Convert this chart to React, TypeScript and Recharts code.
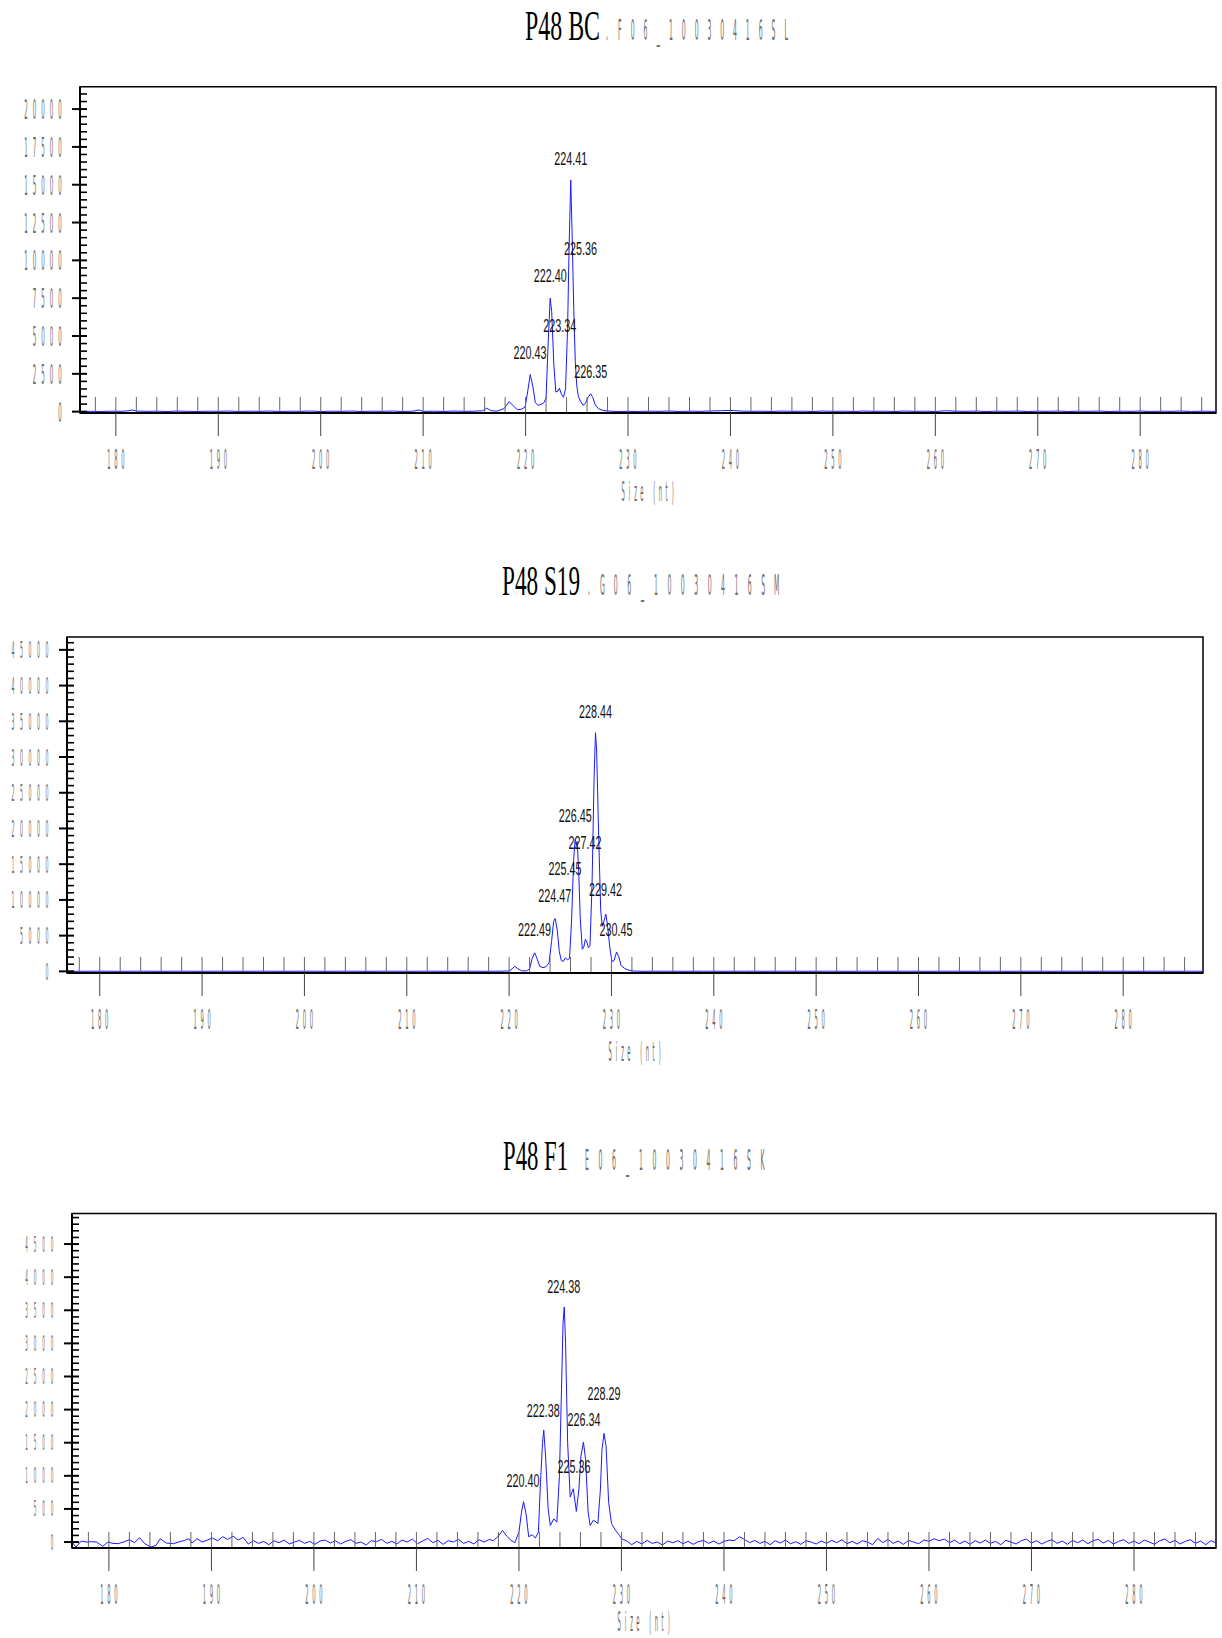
import React from "react";
import { ComposedChart, Line, Scatter, XAxis, YAxis, ReferenceArea } from "recharts";

// ---------- data ----------
// [size (nt), RFU]
const bcTrace: [number, number][] = [
  [176.5, 0], [177.5, 20], [178.5, 10], [179.5, 30], [180.5, 20], [181.3, 60], [181.6, 110], [182, 40],
  [183, 20], [184, 30], [185, 10], [186, 40], [187, 20], [188, 10], [189, 30], [190, 20], [191, 40],
  [192, 10], [193, 30], [194, 20], [195, 40], [196, 10], [197, 30], [198, 20], [199, 40], [200, 10],
  [201, 30], [202, 20], [203, 40], [204, 10], [205, 30], [206, 20], [207, 40], [208, 10], [209, 30],
  [209.6, 110], [210, 20], [211, 30], [212, 10], [213, 40], [214, 20], [215, 30], [215.8, 60], [216.2, 230],
  [216.6, 70], [217.2, 30], [217.9, 200], [218.4, 660], [218.8, 380], [219.2, 130], [219.6, 160],
  [219.95, 300], [220.2, 1300], [220.45, 2450], [220.7, 1700], [220.95, 600], [221.2, 420], [221.5, 480],
  [221.8, 600], [222.0, 900], [222.2, 4500], [222.4, 7500], [222.55, 6600], [222.75, 3200], [222.95, 1300],
  [223.15, 1350], [223.3, 1550], [223.5, 1150], [223.7, 950], [223.9, 1500], [224.1, 5500], [224.25, 11000],
  [224.41, 15300], [224.55, 11500], [224.7, 6800], [224.85, 3300], [225.0, 1700], [225.15, 1000],
  [225.35, 700], [225.6, 420], [225.85, 550], [226.1, 950], [226.35, 1180], [226.55, 950], [226.8, 450],
  [227.1, 200], [227.5, 90], [228, 40], [229, 10], [230, 20], [231, 10], [232, 30], [233, 20], [234, 40],
  [235, 10], [236, 30], [237, 20], [238, 40], [239, 60], [240, 80], [241, 40], [242, 20], [243, 30],
  [244, 10], [245, 40], [246, 20], [247, 30], [248, 10], [249, 40], [250, 20], [251, 30], [252, 10],
  [253, 40], [254, 20], [255, 30], [256, 10], [257, 40], [258, 20], [259, 30], [260, 10], [261, 60],
  [262, 30], [263, 20], [264, 40], [265, 10], [266, 30], [267, 20], [268, 40], [269, 10], [270, 30],
  [271, 20], [272, 40], [273, 10], [274, 30], [275, 20], [276, 40], [277, 10], [278, 30], [279, 20],
  [280, 40], [281, 10], [282, 30], [283, 20], [284, 40], [285, 10], [286, 30], [287, 20], [287.4, 10],
];
const bcPeakSizes = [220.43, 222.4, 223.34, 224.41, 225.36, 226.35];
const bcPeakLevels = [2410, 7540, 4210, 15260, 9300, 1170];

const s19Trace: [number, number][] = [
  [176.8, 0], [178, 10], [180, 20], [182, 10], [184, 20], [186, 10], [188, 20], [190, 10], [192, 20],
  [194, 10], [196, 20], [198, 10], [200, 20], [202, 10], [204, 20], [206, 10], [208, 20], [210, 10],
  [212, 20], [214, 10], [216, 20], [218, 10], [219.5, 30], [220.0, 60], [220.3, 350], [220.55, 700],
  [220.85, 380], [221.2, 90], [221.7, 60], [222.0, 350], [222.25, 1800], [222.5, 2600], [222.75, 1700],
  [223.0, 700], [223.3, 520], [223.6, 650], [223.9, 1200], [224.15, 4200], [224.35, 7000], [224.5, 7400],
  [224.7, 5800], [224.9, 2800], [225.1, 1500], [225.3, 1400], [225.5, 1900], [225.7, 1600], [225.9, 1800],
  [226.1, 7000], [226.3, 15500], [226.45, 18500], [226.55, 17700], [226.65, 18200], [226.8, 14000],
  [226.95, 7500], [227.15, 3100], [227.3, 3400], [227.45, 4500], [227.6, 4100], [227.75, 3300],
  [227.9, 3600], [228.1, 12000], [228.3, 27000], [228.44, 33400], [228.55, 31000], [228.75, 19000],
  [228.95, 8500], [229.1, 6300], [229.3, 7200], [229.45, 8000], [229.6, 6600], [229.85, 3200],
  [230.05, 1400], [230.25, 1500], [230.5, 2700], [230.7, 2100], [230.95, 800], [231.3, 400], [231.7, 150],
  [232.2, 40], [233, 10], [235, 20], [237, 10], [239, 20], [241, 10], [243, 20], [245, 10], [247, 20],
  [249, 10], [251, 20], [253, 10], [255, 20], [257, 10], [259, 20], [261, 10], [263, 20], [265, 10],
  [267, 20], [269, 10], [271, 20], [273, 10], [275, 20], [277, 10], [279, 20], [281, 10], [283, 20],
  [285, 10], [287, 20], [287.8, 10],
];
const s19PeakSizes = [222.49, 224.47, 225.45, 226.45, 227.42, 228.44, 229.42, 230.45];
const s19PeakLevels = [2760, 7500, 11300, 18700, 14900, 33200, 8300, 2760];

const f1Trace: [number, number][] = [
  [176.4, 0], [176.8, -75], [177.3, 15], [177.8, 0], [178.3, 5], [178.8, 0], [179.4, -65], [179.9, 0],
  [180.4, -20], [180.9, -25], [181.4, 0], [182.0, 35], [182.5, -10], [183.0, 65], [183.5, -25], [184.1, -75],
  [184.6, -50], [185.0, 50], [185.6, -15], [186.3, -25], [186.8, 0], [187.4, 25], [187.8, 50], [188.1, -15],
  [188.6, 50], [189.1, 0], [189.6, 30], [190.1, 60], [190.6, 20], [191.1, 80], [191.6, 40], [192.1, 90],
  [192.6, 30], [193.1, 70], [193.6, -30], [194.1, 20], [194.6, -20], [195.1, 10], [195.6, -40], [196.1, 20],
  [196.6, -10], [197.1, 30], [197.6, -30], [198.1, 0], [198.6, 25], [199.1, -20], [199.6, 10], [200.1, -35],
  [200.6, 15], [201.1, 30], [201.6, -15], [202.1, 20], [202.6, -30], [203.1, 10], [203.6, 35], [204.1, -20],
  [204.6, 0], [205.1, -45], [205.6, 20], [206.1, 5], [206.6, 40], [207.1, -20], [207.6, 10], [208.1, -30],
  [208.6, 30], [209.1, 0], [209.6, 45], [210.1, -25], [210.6, 15], [211.1, 55], [211.6, -10], [212.1, 25],
  [212.6, -35], [213.1, 20], [213.6, 0], [214.1, 40], [214.6, -20], [215.1, 10], [215.6, -30], [216.1, 35],
  [216.6, 0], [217.1, 40], [217.5, 20], [218.0, 90], [218.4, 176], [218.8, 90], [219.2, 30], [219.6, -10],
  [220.0, 150], [220.25, 450], [220.45, 610], [220.7, 420], [220.95, 80], [221.3, 110], [221.6, 60],
  [221.9, 150], [222.1, 900], [222.3, 1500], [222.42, 1690], [222.6, 1300], [222.85, 500], [223.06, 250],
  [223.4, 350], [223.7, 300], [223.95, 1000], [224.15, 2300], [224.3, 3300], [224.42, 3550], [224.55, 3000],
  [224.75, 1500], [225.0, 680], [225.3, 805], [225.6, 463], [225.85, 800], [226.05, 1300], [226.29, 1510],
  [226.5, 1250], [226.75, 450], [226.95, 250], [227.26, 330], [227.7, 280], [227.95, 800], [228.1, 1400],
  [228.3, 1640], [228.5, 1450], [228.75, 600], [229.03, 280], [229.4, 180], [229.8, 100], [230.1, 40],
  [230.5, 20], [231.0, -40], [231.5, 10], [232.0, -30], [232.5, 25], [233.0, -20], [233.5, 0], [234.0, -45],
  [234.5, 15], [235.0, -10], [235.5, 20], [236.0, -25], [236.5, 10], [237.0, -35], [237.5, 5], [238.0, 25],
  [238.5, -20], [239.0, 15], [239.5, -30], [240.0, 10], [240.5, 30], [241.0, 20], [241.5, 80], [242.0, 40],
  [242.5, -10], [243.0, 25], [243.5, -20], [244.0, 10], [244.5, -40], [245.0, 20], [245.5, -15], [246.0, 30],
  [246.5, -25], [247.0, 5], [247.5, -35], [248.0, 20], [248.5, 0], [249.0, -30], [249.5, 15], [250.0, -20],
  [250.5, 25], [251.0, -10], [251.5, 35], [252.0, -25], [252.5, 10], [253.0, -30], [253.5, 20], [254.0, 0],
  [254.5, -40], [255.0, 55], [255.5, -10], [256.0, 40], [256.5, -20], [257.0, 15], [257.5, -35], [258.0, 25],
  [258.5, 0], [259.0, -25], [259.5, 30], [260.0, 10], [260.5, 50], [261.0, 20], [261.5, 45], [262.0, -10],
  [262.5, 30], [263.0, -25], [263.5, 15], [264.0, -35], [264.5, 20], [265.0, -15], [265.5, 30], [266.0, -20],
  [266.5, 10], [267.0, -40], [267.5, 25], [268.0, 0], [268.5, -30], [269.0, 20], [269.5, 45], [270.0, -15],
  [270.5, 20], [271.0, -30], [271.5, 10], [272.0, 35], [272.5, -20], [273.0, 15], [273.5, -35], [274.0, 25],
  [274.5, -10], [275.0, 30], [275.5, -25], [276.0, 20], [276.5, 40], [277.0, -15], [277.5, 25], [278.0, -30],
  [278.5, 10], [279.0, 35], [279.5, -20], [280.0, 15], [280.5, -25], [281.0, 30], [281.5, 0], [282.0, -35],
  [282.5, 20], [283.0, 45], [283.5, -10], [284.0, 25], [284.5, -30], [285.0, 10], [285.5, 35], [286.0, -20],
  [286.5, 15], [287.0, -40], [287.5, 20], [288.0, -10],
];
const f1PeakSizes = [220.4, 222.38, 224.38, 225.36, 226.34, 228.29];
const f1PeakLevels = [594, 1650, 3520, 800, 1510, 1900];

const sizeMajorTicks = [180, 190, 200, 210, 220, 230, 240, 250, 260, 270, 280];

// ---------- drawing helpers ----------
const GREY = "#6e6e6e";

// the plot software draws these labels as very thin, tall, widely spaced glyphs
function Stretch({ x, y, text, pitch, anchor = "middle", size = 27, sx = 0.21, fill = GREY }: any) {
  const chars = String(text).split("");
  const total = (chars.length - 1) * pitch;
  const x0 = anchor === "end" ? x - total : anchor === "start" ? x : x - total / 2;
  return (
    <g>
      {chars.map((c: string, i: number) =>
        c === " " ? null : (
          <text
            key={i}
            transform={`translate(${x0 + i * pitch},${y}) scale(${sx},1)`}
            textAnchor="middle"
            fontSize={size}
            fontFamily="DejaVu Sans"
            fill={fill}
          >
            {c}
          </text>
        )
      )}
    </g>
  );
}

// condensed text: squeezed with a transform, exact width from textLength
function Squeezed({ x, y, text, width, natural, size, family, anchor = "start", fill = "#000" }: any) {
  const sx = width / natural;
  return (
    <text
      transform={`translate(${x},${y}) scale(${sx},1)`}
      textAnchor={anchor}
      fontFamily={family}
      fontSize={size}
      textLength={natural}
      lengthAdjust="spacingAndGlyphs"
      fill={fill}
    >
      {text}
    </text>
  );
}

function range(from: number, to: number, step: number) {
  const out: number[] = [];
  for (let v = from; v <= to + 1e-9; v += step) out.push(Math.round(v * 1000) / 1000);
  return out;
}

type Cfg = {
  top: number;
  height: number;
  box: { left: number; top: number; right: number; bottom: number };
  xDomain: [number, number];
  yDomain: [number, number];
  yStep: number;
  yMajor: number;
  yMax: number;
  yGlyph: number;
  sizeOffset: number;
  trace: [number, number][];
  peakSizes: number[];
  peakLevels: number[];
  title: { main: string; x: number; width: number; natural: number; base: number; rest: string; restX: number; pitch: number };
};

function Panel({ cfg }: { cfg: Cfg }) {
  const data = cfg.trace.map(([size, rfu]) => ({ size, rfu }));
  const peaks = cfg.peakSizes.map((s, i) => ({ size: s, level: cfg.peakLevels[i], text: s.toFixed(2) }));
  const xTicks = range(178, 286, 2);
  const yTicks = range(0, cfg.yMax, cfg.yStep);
  const { box } = cfg;

  const XTick = (p: any) => {
    const v = p.payload.value;
    const major = sizeMajorTicks.includes(v);
    return (
      <g>
        <line x1={p.x} x2={p.x} y1={p.y - 1} y2={p.y - 16} stroke="#666" strokeWidth={1} />
        {major && <line x1={p.x} x2={p.x} y1={p.y} y2={p.y + 23} stroke="#444" strokeWidth={1} />}
        {major && <Stretch x={p.x} y={p.y + 56} text={String(v)} pitch={7} size={26} sx={0.2} />}
      </g>
    );
  };

  const YTick = (p: any) => {
    const v = p.payload.value;
    const major = Math.abs(v % cfg.yMajor) < 1e-6;
    return (
      <g>
        {major ? (
          <line x1={p.x - 8} x2={p.x + 7} y1={p.y} y2={p.y} stroke="#000" strokeWidth={2} />
        ) : (
          <line x1={p.x} x2={p.x + 7} y1={p.y} y2={p.y} stroke="#000" strokeWidth={1.6} />
        )}
        {major && (
          <Stretch
            x={p.x - 20}
            y={p.y + cfg.yGlyph / 2}
            text={String(v)}
            pitch={8.5}
            anchor="end"
            size={cfg.yGlyph / 0.729}
            sx={0.2}
          />
        )}
      </g>
    );
  };

  const SizeLabel = (p: any) => {
    const vb = p.viewBox;
    return <Stretch x={vb.x + vb.width / 2} y={vb.y + cfg.sizeOffset} text="Size (nt)" pitch={6.2} size={26} sx={0.2} />;
  };

  const PeakLabel = (p: any) => (
    <Squeezed
      x={p.cx}
      y={p.cy - 16}
      text={p.payload.text}
      width={33}
      natural={56.6}
      size={18.5}
      family="Liberation Sans"
      anchor="middle"
      fill="#111"
    />
  );

  const t = cfg.title;
  return (
    <div style={{ position: "absolute", left: 0, top: cfg.top, width: 1222, height: cfg.height }}>
      <ComposedChart
        width={1222}
        height={cfg.height}
        data={data}
        margin={{ top: box.top, right: 1222 - box.right, bottom: cfg.height - box.bottom - 90, left: 0 }}
      >
        <XAxis
          type="number"
          dataKey="size"
          domain={cfg.xDomain}
          ticks={xTicks}
          interval={0}
          allowDataOverflow
          height={90}
          tickSize={0}
          tickMargin={0}
          tickLine={false}
          axisLine={{ stroke: "#000", strokeWidth: 2 }}
          tick={XTick}
          label={{ content: SizeLabel }}
        />
        <YAxis
          type="number"
          domain={cfg.yDomain}
          ticks={yTicks}
          interval={0}
          allowDataOverflow
          width={box.left}
          tickSize={0}
          tickMargin={0}
          tickLine={false}
          axisLine={{ stroke: "#000", strokeWidth: 2 }}
          tick={YTick}
        />
        <ReferenceArea
          x1={cfg.xDomain[0]}
          x2={cfg.xDomain[1]}
          y1={cfg.yDomain[0]}
          y2={cfg.yDomain[1]}
          fill="none"
          stroke="#000"
          strokeWidth={1.5}
          ifOverflow="visible"
        />
        <Line type="linear" dataKey="rfu" stroke="#1a1aff" strokeWidth={1} dot={false} isAnimationActive={false} />
        <Scatter data={peaks} dataKey="level" shape={PeakLabel} isAnimationActive={false} />
      </ComposedChart>
      <svg width={1222} height={90} style={{ position: "absolute", left: 0, top: 0, pointerEvents: "none" }}>
        <Squeezed x={t.x} y={t.base} text={t.main} width={t.width} natural={t.natural} size={42} family="Liberation Serif" />
        <Stretch x={t.restX} y={t.base} text={t.rest} pitch={t.pitch} anchor="start" size={28} sx={0.22} />
      </svg>
    </div>
  );
}

const panels: Cfg[] = [
  {
    top: 0,
    height: 540,
    box: { left: 80, top: 86.7, right: 1216, bottom: 413 },
    xDomain: [176.5, 287.4],
    yDomain: [-90, 21480],
    yStep: 500,
    yMajor: 2500,
    yMax: 21000,
    yGlyph: 20,
    sizeOffset: 88,
    trace: bcTrace,
    peakSizes: bcPeakSizes,
    peakLevels: bcPeakLevels,
    title: { main: "P48 BC", x: 525, width: 75, natural: 132, base: 40, rest: ".F06_10030416SL", restX: 607, pitch: 12.8 },
  },
  {
    top: 540,
    height: 560,
    box: { left: 67, top: 97, right: 1203, bottom: 433 },
    xDomain: [176.8, 287.8],
    yDomain: [-230, 46800],
    yStep: 1000,
    yMajor: 5000,
    yMax: 46000,
    yGlyph: 17,
    sizeOffset: 88,
    trace: s19Trace,
    peakSizes: s19PeakSizes,
    peakLevels: s19PeakLevels,
    title: { main: "P48 S19", x: 502, width: 78, natural: 141, base: 55, rest: ".G06_10030416SM", restX: 589, pitch: 13.4 },
  },
  {
    top: 1100,
    height: 538,
    box: { left: 72, top: 113.6, right: 1216, bottom: 448 },
    xDomain: [176.4, 288.0],
    yDomain: [-90, 4960],
    yStep: 100,
    yMajor: 500,
    yMax: 4900,
    yGlyph: 15,
    sizeOffset: 83,
    trace: f1Trace,
    peakSizes: f1PeakSizes,
    peakLevels: f1PeakLevels,
    title: { main: "P48 F1", x: 503, width: 65, natural: 120, base: 70, rest: "E06_10030416SK", restX: 587, pitch: 13.5 },
  },
];

export default function App() {
  return (
    <div style={{ position: "absolute", left: 0, top: 0, width: 1222, height: 1638, background: "#fff" }}>
      {panels.map((cfg, i) => (
        <Panel key={i} cfg={cfg} />
      ))}
    </div>
  );
}
